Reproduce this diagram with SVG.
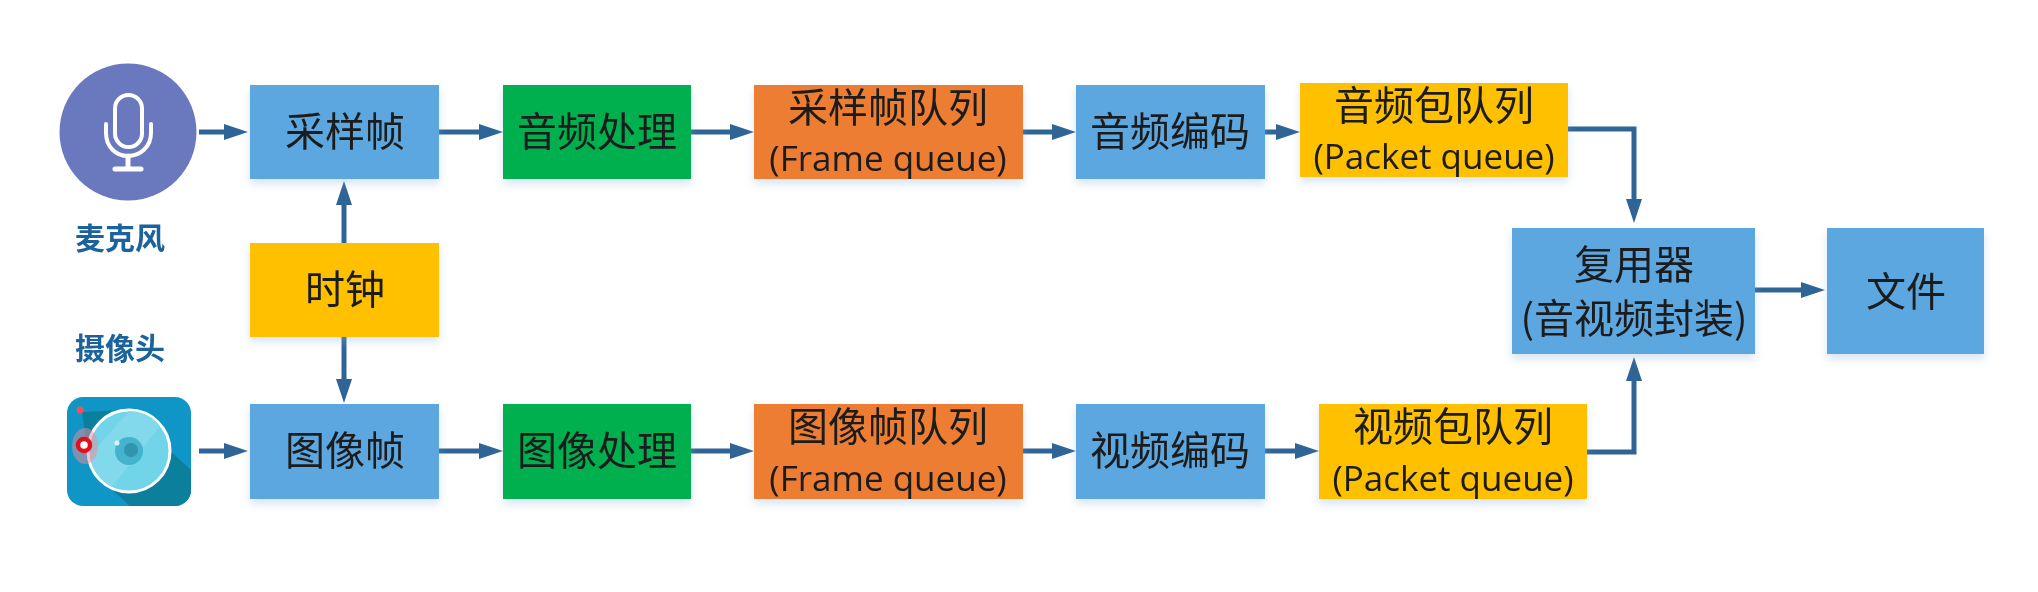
<svg xmlns="http://www.w3.org/2000/svg" width="2038" height="592" viewBox="0 0 2038 592">
<style>
.box{filter:url(#shadow)}
.blue{fill:#5ba7e0}.green{fill:#00b050}.orange{fill:#ed7d31}.yellow{fill:#ffc000}
text{font-family:"Noto Sans CJK SC","Noto Sans",sans-serif;fill:#1c1c1c;text-anchor:middle;filter:url(#soft)}
.t{font-size:40px}.e{font-size:35px;font-family:"Open Sans","Noto Sans CJK SC",sans-serif}
.cap{font-size:30px;font-weight:700;fill:#1c639d}
.c{fill:none;stroke:#2f6496;stroke-width:5;marker-end:url(#a)}
</style>
<defs>
<filter id="shadow" x="-10%" y="-10%" width="120%" height="130%"><feDropShadow dx="0" dy="5" stdDeviation="4" flood-color="#8fb4dc" flood-opacity=".35"/></filter>
<filter id="soft" x="-5%" y="-10%" width="110%" height="120%"><feGaussianBlur stdDeviation=".5"/></filter>
<marker id="a" markerUnits="userSpaceOnUse" markerWidth="24" markerHeight="18" refX="14" refY="9" orient="auto"><path d="M0,1L24,9L0,17z" fill="#2f6496"/></marker>
<clipPath id="cam"><rect x="67" y="397" width="124" height="109" rx="16"/></clipPath>
</defs>
<rect width="2038" height="592" fill="#fff"/>
<g id="connectors">
<path class="c" d="M199,132H238"/>
<path class="c" d="M439,132H493"/>
<path class="c" d="M691,132H744"/>
<path class="c" d="M1023,132H1066"/>
<path class="c" d="M1265,132H1290"/>
<path class="c" d="M1568,129H1634V213"/>
<path class="c" d="M344,243V191"/>
<path class="c" d="M344,337V393"/>
<path class="c" d="M199,451H238"/>
<path class="c" d="M439,451H493"/>
<path class="c" d="M691,451H744"/>
<path class="c" d="M1023,451H1066"/>
<path class="c" d="M1265,451H1309"/>
<path class="c" d="M1587,452H1634V367"/>
<path class="c" d="M1755,290H1815"/>
</g>
<g id="mic">
<circle cx="128" cy="132" r="68.5" fill="#6a78bd"/>
<g fill="none" stroke="#fff" stroke-linecap="round">
<rect x="115" y="95" width="27" height="52" rx="13.5" stroke-width="4"/>
<path d="M106,124V133C106,147 116,156 128,156C140,156 151,147 151,133V124" stroke-width="4"/>
<path d="M128,156V168M115,169H141" stroke-width="5"/>
</g>
</g>
<g id="mic-label"><text class="cap" x="120" y="249">麦克风</text></g>
<g id="camera-label"><text class="cap" x="120" y="359">摄像头</text></g>
<g id="camera">
<rect x="67" y="397" width="124" height="109" rx="16" fill="#0f96c6"/>
<path d="M82,412L125,410L191,470V506H130L90,470z" fill="#0c7f9d" clip-path="url(#cam)"/>
<circle cx="129" cy="451" r="41" fill="#72d4e8" stroke="#fff" stroke-width="3"/>
<path d="M129,411A40,40 0 0 1 160,426L112,487A40,40 0 0 1 90,455z" fill="#82d9eb"/>
<circle cx="129" cy="451" r="14" fill="#44b3cc"/>
<circle cx="131" cy="450" r="7" fill="#3294ae"/>
<circle cx="117" cy="443" r="2.5" fill="#d8f5fb"/>
<ellipse cx="85" cy="446" rx="13" ry="18" fill="#f08a9a" opacity=".5"/>
<circle cx="84" cy="445" r="6" fill="#fff" stroke="#e0101c" stroke-width="4.5"/>
<circle cx="80" cy="410" r="3.5" fill="#f0525a"/>
</g>
<g id="n1"><rect class="box blue" x="250" y="85" width="189" height="94"/><text class="t" x="345" y="146">采样帧</text></g>
<g id="n2"><rect class="box green" x="503" y="85" width="188" height="94"/><text class="t" x="597" y="146">音频处理</text></g>
<g id="n3"><rect class="box orange" x="754" y="85" width="269" height="94"/><text class="t" x="888" y="122">采样帧队列</text><text class="e" x="888" y="171">(Frame queue)</text></g>
<g id="n4"><rect class="box blue" x="1076" y="85" width="189" height="94"/><text class="t" x="1170" y="146">音频编码</text></g>
<g id="n5"><rect class="box yellow" x="1300" y="83" width="268" height="94"/><text class="t" x="1434" y="120">音频包队列</text><text class="e" x="1434" y="169">(Packet queue)</text></g>
<g id="n6"><rect class="box yellow" x="250" y="243" width="189" height="94"/><text class="t" x="345" y="304">时钟</text></g>
<g id="n7"><rect class="box blue" x="250" y="404" width="189" height="95"/><text class="t" x="345" y="465">图像帧</text></g>
<g id="n8"><rect class="box green" x="503" y="404" width="188" height="95"/><text class="t" x="597" y="465">图像处理</text></g>
<g id="n9"><rect class="box orange" x="754" y="404" width="269" height="95"/><text class="t" x="888" y="441">图像帧队列</text><text class="e" x="888" y="491">(Frame queue)</text></g>
<g id="n10"><rect class="box blue" x="1076" y="404" width="189" height="95"/><text class="t" x="1170" y="465">视频编码</text></g>
<g id="n11"><rect class="box yellow" x="1319" y="404" width="268" height="95"/><text class="t" x="1453" y="441">视频包队列</text><text class="e" x="1453" y="491">(Packet queue)</text></g>
<g id="n12"><rect class="box blue" x="1512" y="228" width="243" height="126"/><text class="t" x="1634" y="279">复用器</text><text class="t" x="1634" y="333">(音视频封装)</text></g>
<g id="n13"><rect class="box blue" x="1827" y="228" width="157" height="126"/><text class="t" x="1906" y="306">文件</text></g>
</svg>
